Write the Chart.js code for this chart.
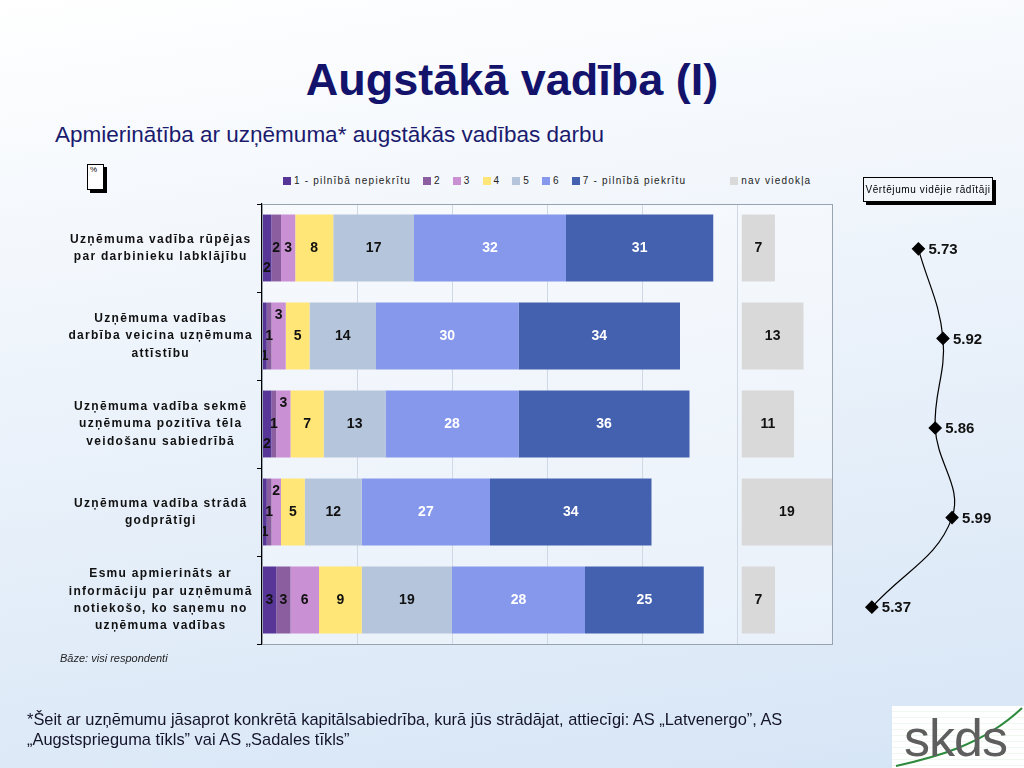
<!DOCTYPE html>
<html lang="lv">
<head>
<meta charset="utf-8">
<title>Augstākā vadība (I)</title>
<script src="https://cdn.jsdelivr.net/npm/chart.js@4.4.1/dist/chart.umd.min.js"></script>
<style>
  html, body { margin: 0; padding: 0; }
  body {
    width: 1024px; height: 768px; overflow: hidden; position: relative;
    font-family: "Liberation Sans", Arial, sans-serif;
    background: linear-gradient(172deg, #ffffff 0%, #eef4fb 40%, #d6e5f6 100%);
  }
  .abs { position: absolute; }
  #title { top: 57px; left: 0; width: 1024px; text-align: center; font-weight: bold;
    font-size: 45px; line-height: 1; color: #13136c; }
  #subtitle { top: 124px; left: 55px; font-size: 22.5px; line-height: 1; color: #1b1b6e; white-space: nowrap; }
  #pct { top: 164px; left: 87px; width: 13px; height: 23px; border: 1px solid #000; background: #fff;
    box-shadow: 3px 3px 0 #000; font-size: 8px; line-height: 1; padding: 1px 0 0 2px; box-sizing: content-box; }
  #legend { top: 175px; left: 283px; display: flex; align-items: center; font-size: 10px;
    letter-spacing: 1.2px; color: #222; white-space: nowrap; }
  #legend .item { display: flex; align-items: center; margin-right: 12px; }
  #legend .item.gap { margin-left: 32px; }
  #legend .sw { width: 8px; height: 8px; margin-right: 3px; }
  #avgBox { top: 177px; left: 863px; width: 128px; height: 23px; border: 1px solid #000; background: #f3f7fc;
    box-shadow: 3px 3px 0 #000; font-size: 10px; letter-spacing: 0.6px; line-height: 23px; text-align: center; white-space: nowrap; }
  #base { top: 652px; left: 60px; font-size: 11px; font-style: italic; color: #222; }
  #note { top: 709px; left: 27px; font-family: "Liberation Sans", Arial, sans-serif;
    font-size: 16.4px; line-height: 20px; color: #14142a; white-space: nowrap; }
  #logo { top: 706px; left: 892px; width: 132px; height: 62px; background:
    repeating-linear-gradient(to bottom, #ffffff 0px, #ffffff 5px, #e2efe2 6px); overflow: hidden; }
  #logo span { position: absolute; left: 12px; top: 6px; font-size: 52px; line-height: 1; color: #5e5e5e; letter-spacing: -1px; }
  #logo svg { position: absolute; left: 0; top: 0; }
</style>
</head>
<body>
<div id="title" class="abs">Augstākā vadība (I)</div>
<div id="subtitle" class="abs">Apmierinātība ar uzņēmuma* augstākās vadības darbu</div>
<div id="pct" class="abs">%</div>
<div id="legend" class="abs"></div>
<canvas id="bars" class="abs" width="1024" height="768" style="left:0;top:0"></canvas>
<canvas id="avg" class="abs" width="224" height="448" style="left:800px;top:204px"></canvas>
<div id="avgBox" class="abs">Vērtējumu vidējie rādītāji</div>
<div id="base" class="abs">Bāze: visi respondenti</div>
<div id="note" class="abs">*Šeit ar uzņēmumu jāsaprot konkrētā kapitālsabiedrība, kurā jūs strādājat, attiecīgi: AS „Latvenergo”, AS<br>„Augstsprieguma tīkls” vai AS „Sadales tīkls”</div>
<div id="logo" class="abs">
  <svg width="132" height="62"><path d="M4 60 C 40 52, 90 40, 130 2" stroke="#2e8b3e" stroke-width="2" fill="none"/></svg>
  <span>skds</span>
</div>

<script>
'use strict'

const categories = [
  ['Uzņēmuma vadība rūpējas', 'par darbinieku labklājību'],
  ['Uzņēmuma vadības', 'darbība veicina uzņēmuma', 'attīstību'],
  ['Uzņēmuma vadība sekmē', 'uzņēmuma pozitīva tēla', 'veidošanu sabiedrībā'],
  ['Uzņēmuma vadība strādā', 'godprātīgi'],
  ['Esmu apmierināts ar', 'informāciju par uzņēmumā', 'notiekošo, ko saņemu no', 'uzņēmuma vadības']
];

const seriesNames = ['1 - pilnībā nepiekrītu', '2', '3', '4', '5', '6', '7 - pilnībā piekrītu'];
const noOpinionName = 'nav viedokļa';

// % per answer, one array per scale point
const score1 = [2, 1, 2, 1, 3];
const score2 = [2, 1, 1, 1, 3];
const score3 = [3, 3, 3, 2, 6];
const score4 = [8, 5, 7, 5, 9];
const score5 = [17, 14, 13, 12, 19];
const score6 = [32, 30, 28, 27, 28];
const score7 = [31, 34, 36, 34, 25];
const noOpinion = [7, 13, 11, 19, 7];

const averages = [5.73, 5.92, 5.86, 5.99, 5.37];

const colors = ['#573698', '#8b5e9f', '#c990d4', '#ffe676', '#b5c6dc', '#8598ec', '#4461b0'];
const noOpinionColor = '#d9d9d9';

// where the "nav viedokļa" bar begins on the % axis
const NAV_START = 101;

const scores = [score1, score2, score3, score4, score5, score6, score7];

// legend
const legendEl = document.getElementById('legend');
seriesNames.concat([noOpinionName]).forEach(function(name, i) {
  let item = document.createElement('div');
  item.className = 'item' + (i === seriesNames.length ? ' gap' : '');
  let sw = document.createElement('div');
  sw.className = 'sw';
  sw.style.background = i < colors.length ? colors[i] : noOpinionColor;
  item.appendChild(sw);
  item.appendChild(document.createTextNode(name));
  legendEl.appendChild(item);
});

let datasets = scores.map(function(values, i) {
  return { label: seriesNames[i], data: values, backgroundColor: colors[i] };
});
let spacer = categories.map(function(c, r) {
  let sum = 0;
  for (let i = 0; i < scores.length; i++) sum += scores[i][r];
  return NAV_START - sum;
});
datasets.push({ label: '', data: spacer, backgroundColor: 'rgba(0,0,0,0)', spacer: true });
datasets.push({ label: noOpinionName, data: noOpinion, backgroundColor: noOpinionColor });

const plotBox = {
  id: 'plotBox',
  beforeUpdate(chart) {
    chart.ctx.letterSpacing = '1.3px';
  },
  beforeDraw(chart) {
    const a = chart.chartArea;
    const ctx = chart.ctx;
    ctx.save();
    ctx.fillStyle = 'rgba(255,255,255,0.35)';
    ctx.fillRect(a.left, a.top, a.right - a.left, a.bottom - a.top);
    ctx.restore();
    ctx.letterSpacing = '1.3px';
  },
  afterDraw(chart) {
    const a = chart.chartArea;
    const ctx = chart.ctx;
    ctx.save();
    ctx.strokeStyle = '#98a3b0';
    ctx.lineWidth = 1;
    ctx.strokeRect(a.left + 0.5, a.top + 0.5, a.right - a.left, a.bottom - a.top);
    ctx.restore();
  }
};

const barLabels = {
  id: 'barLabels',
  afterDatasetsDraw(chart) {
    const ctx = chart.ctx;
    ctx.save();
    ctx.letterSpacing = '0px';
    ctx.font = 'bold 14px "Liberation Sans", Arial, sans-serif';
    ctx.textAlign = 'center';
    ctx.textBaseline = 'middle';
    chart.data.datasets.forEach(function(ds, d) {
      if (ds.spacer) return;
      const meta = chart.getDatasetMeta(d);
      meta.data.forEach(function(bar, r) {
        const v = ds.data[r];
        let x = (bar.x + bar.base) / 2;
        let y = bar.y;
        // small first/third segments get pushed off-centre so they do not collide
        if (d === 0 && v <= 2) y += 20;
        if (d === 2 && score2[r] <= 1) y -= 21;
        ctx.fillStyle = (d === 5 || d === 6) ? '#ffffff' : '#111111';
        ctx.fillText(String(v), x, y);
      });
    });
    ctx.restore();
  }
};

new Chart(document.getElementById('bars'), {
  type: 'bar',
  data: { labels: categories, datasets: datasets },
  options: {
    indexAxis: 'y',
    responsive: false,
    animation: false,
    events: [],
    barPercentage: 0.76,
    categoryPercentage: 1,
    layout: { padding: { top: 204, right: 192, bottom: 124, left: 0 } },
    scales: {
      x: {
        stacked: true, min: 0, max: 120,
        ticks: { display: false, stepSize: 20 },
        grid: { color: '#cfd9e5', drawTicks: false },
        border: { display: false },
        afterFit: function(s) { s.height = 0; }
      },
      y: {
        stacked: true,
        ticks: {
          crossAlign: 'center', padding: 4, color: '#111',
          font: { family: '"Liberation Sans", Arial, sans-serif', weight: 'bold', size: 12, lineHeight: 1.45 }
        },
        grid: { offset: true, drawOnChartArea: false, drawTicks: true, tickLength: 5, color: '#000' },
        border: { color: '#000', width: 1.2 },
        afterFit: function(s) { s.width = 262; }
      }
    },
    plugins: { legend: { display: false }, tooltip: { enabled: false } }
  },
  plugins: [plotBox, barLabels]
});

const avgLabels = {
  id: 'avgLabels',
  afterDatasetsDraw(chart) {
    const ctx = chart.ctx;
    const meta = chart.getDatasetMeta(0);
    ctx.save();
    ctx.font = 'bold 15px "Liberation Sans", Arial, sans-serif';
    ctx.fillStyle = '#111';
    ctx.textAlign = 'left';
    ctx.textBaseline = 'middle';
    meta.data.forEach(function(pt, i) {
      ctx.fillText(averages[i].toFixed(2), pt.x + 10, pt.y + 1);
    });
    ctx.restore();
  }
};

new Chart(document.getElementById('avg'), {
  type: 'line',
  data: {
    labels: categories,
    datasets: [{
      data: averages,
      borderColor: '#000', borderWidth: 1.2, tension: 0.4, fill: false, clip: false,
      pointStyle: 'rectRot', pointRadius: 6, pointBackgroundColor: '#000', pointBorderColor: '#000'
    }]
  },
  options: {
    indexAxis: 'y',
    responsive: false,
    animation: false,
    events: [],
    layout: { autoPadding: false, padding: { left: 24, right: 6, top: 0, bottom: 0 } },
    scales: {
      x: { type: 'linear', min: 5, max: 6.5, display: false },
      y: { type: 'category', offset: true, display: false }
    },
    plugins: { legend: { display: false }, tooltip: { enabled: false } }
  },
  plugins: [avgLabels]
});
</script>
</body>
</html>
